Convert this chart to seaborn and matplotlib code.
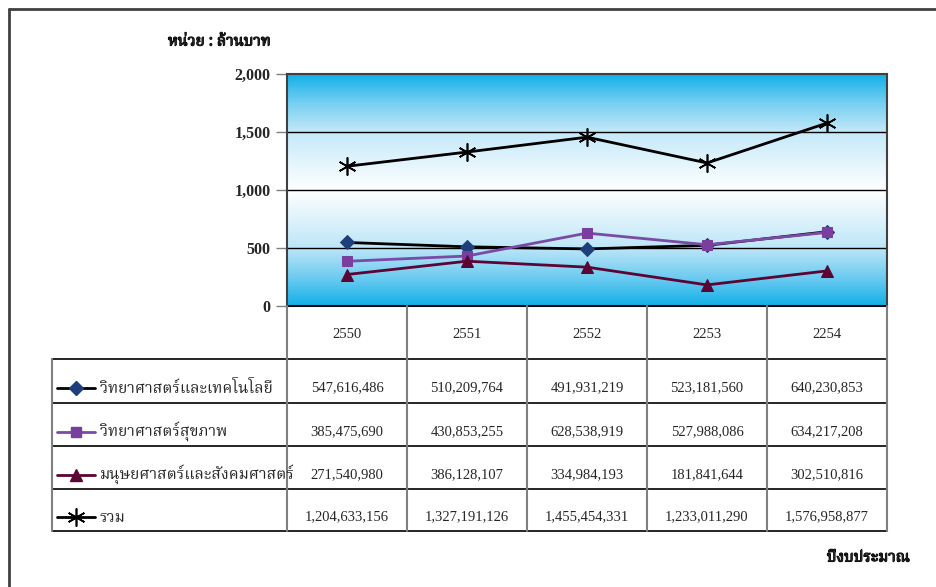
import numpy as np
import pandas as pd
import matplotlib
matplotlib.use("Agg")
import matplotlib.pyplot as plt
import seaborn as sns
from matplotlib import font_manager
from matplotlib import patheffects
from matplotlib.colors import LinearSegmentedColormap
from matplotlib.lines import Line2D

# data (baht)
years = ['2550', '2551', '2552', '2253', '2254']
series_names = ['วิทยาศาสตร์และเทคโนโลยี', 'วิทยาศาสตร์สุขภาพ',
                'มนุษยศาสตร์และสังคมศาสตร์', 'รวม']
sci_tech = [547616486, 510209764, 491931219, 523181560, 640230853]
health = [385475690, 430853255, 628538919, 527988086, 634217208]
social = [271540980, 386128107, 334984193, 181841644, 302510816]
total = [1204633156, 1327191126, 1455454331, 1233011290, 1576958877]
y_ticks = [0, 500, 1000, 1500, 2000]

# find a font that has Thai glyphs
thai_font = None
try:
    from fontTools.ttLib import TTFont
    cands = []
    for f in font_manager.fontManager.ttflist:
        try:
            cmap = TTFont(f.fname, fontNumber=0, lazy=True).getBestCmap()
        except Exception:
            continue
        if cmap and 0x0E27 in cmap and 0x0E2A in cmap:
            cands.append(f.name)
    for pref in ['Noto Serif Thai', 'Noto Sans Thai', 'Laksaman', 'Norasi', 'Garuda', 'Loma']:
        if pref in cands:
            thai_font = pref
            break
    if thai_font is None and cands:
        thai_font = cands[0]
except Exception:
    pass
thai_family = ([thai_font] if thai_font else []) + ['Liberation Serif', 'DejaVu Sans']

sns.set_theme(style="white")
plt.rcParams['font.family'] = ['Liberation Serif', 'DejaVu Serif']

W, H = 936, 587
fig = plt.figure(figsize=(W / 100, H / 100), dpi=100)


def fx(x):
    return x / W


def fy(y):
    return 1 - y / H


# plot area
ax = fig.add_axes([fx(287), fy(306), fx(887) - fx(287), fy(74) - fy(306)])
pos = np.arange(len(years))
ax.set_xlim(-0.5, len(years) - 0.5)
ax.set_ylim(0, 2000)

# gradient background: blue at top and bottom, white in the middle
cmap = LinearSegmentedColormap.from_list('bg', [
    (0.0, '#12B0E8'), (0.12, '#6CCBF0'), (0.25, '#BDE6F8'),
    (0.5, '#FFFFFF'), (0.75, '#C4E9F9'), (0.88, '#74CEF1'), (1.0, '#12B0E8')])
grad = np.linspace(0, 1, 256).reshape(-1, 1)
ax.imshow(grad, aspect='auto', cmap=cmap, extent=[-0.5, len(years) - 0.5, 0, 2000],
          origin='lower', zorder=0)

for t in y_ticks[1:-1]:
    ax.axhline(t, color='black', lw=1.0, zorder=1)

styles = [
    dict(color='black', marker='D', mfc='#1F3E7C', mec='#1F3E7C', ms=7),
    dict(color='#7A4BA6', marker='s', mfc='#7A3F9E', mec='#7A3F9E', ms=6.5),
    dict(color='#5C0434', marker='^', mfc='#5C0434', mec='#5C0434', ms=8.5),
    dict(color='black', marker=(6, 2, 0), mfc='black', mec='black', ms=13, mew=1.2),
]
values = [sci_tech, health, social, total]
for vals, st in zip(values, styles):
    sns.lineplot(x=pos, y=np.array(vals) / 1e6, ax=ax, lw=2.0, zorder=3, **st)

ax.set_yticks(y_ticks)
ax.set_yticklabels([f"{t:,}" for t in y_ticks], fontweight='bold', fontsize=11.5)
ax.set_xticks([])
ax.tick_params(axis='y', length=8, width=1, color='#808080', pad=4, left=True)
for s in ax.spines.values():
    s.set_color('#404040')
    s.set_linewidth(1.5)
    s.set_visible(True)

# data table below the plot
tx = fig.add_axes([fx(52), fy(531), fx(887) - fx(52), fy(306) - fy(531)])
left_edge = -0.5 - (287 - 52) / 120
tx.set_xlim(left_edge, len(years) - 0.5)
tx.set_ylim(531, 306)
tx.axis('off')
rows = [306, 359, 403, 446, 489, 531]

# horizontal (black) lines
tx.plot([-0.5, len(years) - 0.5], [rows[0], rows[0]], color='black', lw=1.2, clip_on=False)
for r in rows[1:]:
    tx.plot([left_edge, len(years) - 0.5], [r, r], color='black', lw=1.2, clip_on=False)
# vertical (gray) lines
for i in range(len(years) + 1):
    tx.plot([i - 0.5, i - 0.5], [rows[0], rows[-1]], color='#808080', lw=1.5, clip_on=False)
tx.plot([left_edge, left_edge], [rows[1], rows[-1]], color='#808080', lw=1.5, clip_on=False)

for i, yr in enumerate(years):
    tx.text(i, 334, yr, ha='center', va='center', fontsize=10.5)

leg_x0 = left_edge + 5 / 120
leg_x1 = left_edge + 43 / 120
for k, (name, vals, st) in enumerate(zip(series_names, values, styles)):
    yc = (rows[k + 1] + rows[k + 2]) / 2 + 7
    tx.plot([leg_x0, leg_x1], [yc, yc], lw=2.0, color=st['color'], clip_on=False)
    tx.plot([(leg_x0 + leg_x1) / 2], [yc], clip_on=False, **st)
    tx.text(left_edge + 48 / 120, yc, name, ha='left', va='center', fontsize=11.2,
            family=thai_family)
    for i, v in enumerate(vals):
        tx.text(i, yc, f"{v:,}", ha='center', va='center', fontsize=10.5)

bold_fx = [patheffects.withStroke(linewidth=0.8, foreground='black')]
fig.text(fx(168), fy(42), 'หน่วย : ล้านบาท', ha='left', va='center', fontsize=11,
         fontweight='bold', family=thai_family, path_effects=bold_fx)
fig.text(fx(910), fy(558), 'ปีงบประมาณ', ha='right', va='center', fontsize=11,
         fontweight='bold', family=thai_family, path_effects=bold_fx)

# outer frame
fig.add_artist(Line2D([fx(9), 1], [fy(9), fy(9)], color='#404040', lw=2, transform=fig.transFigure))
fig.add_artist(Line2D([fx(9), fx(9)], [fy(9), 0], color='#404040', lw=2, transform=fig.transFigure))

fig.savefig('out.png', dpi=100)
